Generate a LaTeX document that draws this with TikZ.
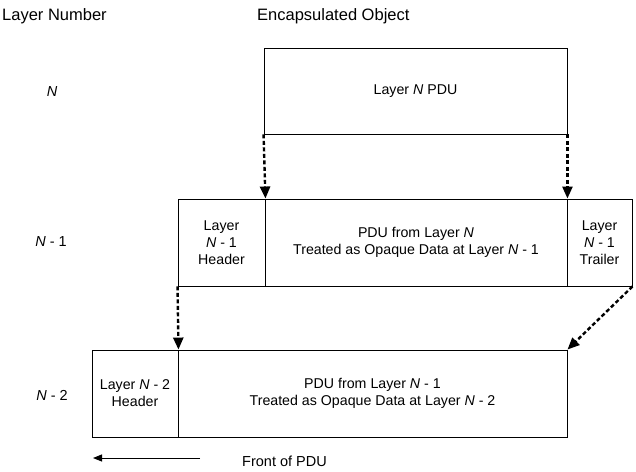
\documentclass[tikz,border=0pt]{standalone}
\usepackage{fontspec}
\setmainfont{Liberation Sans}
\usetikzlibrary{arrows.meta}
\begin{document}
\begin{tikzpicture}[x=1pt,y=-1pt,
 box/.style={draw, line width=0.9pt, inner sep=0pt, align=center, font=\fontsize{14.2}{17}\selectfont},
 head/.style={inner sep=0pt, font=\fontsize{16.5}{20}\selectfont},
 lbl/.style={inner sep=0pt, font=\fontsize{14.5}{17}\selectfont},
 darr/.style={line width=2.4pt, dash pattern=on 4pt off 2.5pt, -{Triangle[length=12pt,width=10pt]}},
 farr/.style={line width=0.9pt, -{Triangle[length=9pt,width=7pt]}}
]
\useasboundingbox (0,0) rectangle (636,471);
\node[head, anchor=west] (hl) at (2,16) {Layer Number};
\node[head, anchor=west] (he) at (257,16) {Encapsulated Object};
\node[lbl] (rn) at (52,92) {\textit{N}};
\node[lbl] (rn1) at (51,242) {\textit{N} - 1};
\node[lbl] (rn2) at (52,395) {\textit{N} - 2};
% top
\node[box, minimum width=303pt, minimum height=86pt] (top) at (415.5,91) {Layer \textit{N} PDU};
% middle
\node[box, minimum width=87pt, minimum height=87pt] (mhead) at (221.5,242.5) {Layer\\\textit{N} - 1\\Header};
\node[box, minimum width=302pt, minimum height=87pt] (mdata) at (416,242.5) {PDU from Layer \textit{N}\\Treated as Opaque Data at Layer \textit{N} - 1};
\node[box, minimum width=65pt, minimum height=87pt] (mtrail) at (599.5,242.5) {Layer\\\textit{N} - 1\\Trailer};
% bottom
\node[box, minimum width=86pt, minimum height=87pt] (bhead) at (135,393.5) {Layer \textit{N} - 2\\Header};
\node[box, minimum width=389pt, minimum height=87pt] (bdata) at (372.5,393.5) {PDU from Layer \textit{N} - 1\\Treated as Opaque Data at Layer \textit{N} - 2};
% arrows
\draw[darr] (top.south west) -- (mhead.north east);
\draw[darr] (top.south east) -- (mdata.north east);
\draw[darr] (mhead.south west) -- (bhead.north east);
\draw[darr] (mtrail.south east) -- (bdata.north east);
% front
\coordinate (fa) at (200,458);
\coordinate (fb) at (93,458);
\draw[farr] (fa) -- (fb);
\node[lbl, anchor=west] (front) at (242,461) {Front of PDU};
\end{tikzpicture}
\end{document}
